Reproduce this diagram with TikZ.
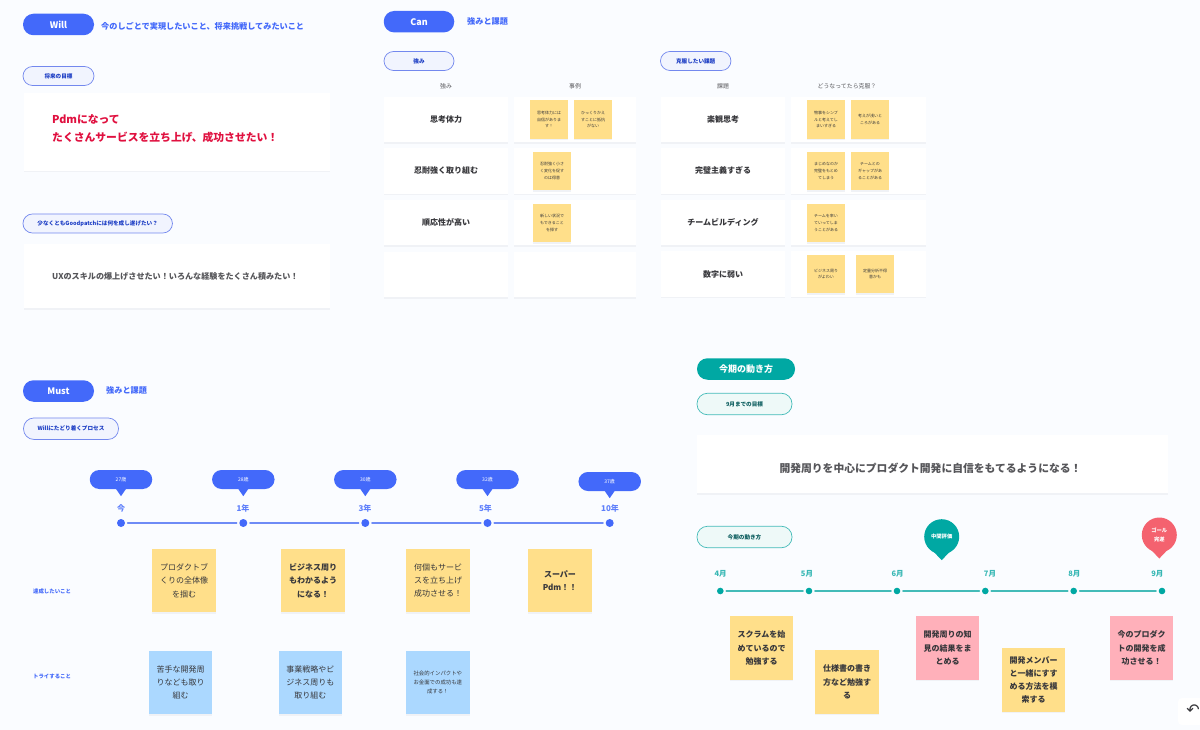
\documentclass[tikz,border=0pt]{standalone}
\usepackage{fontspec}
\usepackage{xcolor}
\setmainfont{Noto Sans CJK JP}
\newfontfamily\undofont{DejaVu Sans}
\usetikzlibrary{shadows}
\definecolor{pagebg}{HTML}{FAFCFF}
\definecolor{shadegray}{HTML}{F0F2F6}
\definecolor{mainblue}{HTML}{4369FA}
\definecolor{lineblue}{HTML}{6E8BF6}
\definecolor{paleblue}{HTML}{F1F4FE}
\definecolor{rimblue}{HTML}{7388EE}
\definecolor{inkblue}{HTML}{1B3CC4}
\definecolor{mainteal}{HTML}{00A8A3}
\definecolor{lineteal}{HTML}{43BBB8}
\definecolor{paleteal}{HTML}{EEF9F8}
\definecolor{inkteal}{HTML}{0E5F60}
\definecolor{goalred}{HTML}{F4626F}
\definecolor{wishred}{HTML}{E0103F}
\definecolor{noteyellow}{HTML}{FFDF8A}
\definecolor{noteblue}{HTML}{ABD8FF}
\definecolor{notepink}{HTML}{FFB0BA}
\definecolor{bodygray}{HTML}{555559}
\definecolor{rowgray}{HTML}{37373B}
\tikzset{
    softshadow/.style={drop shadow={shadow xshift=0pt,shadow yshift=-1.5pt,opacity=1,fill=shadegray}},
    headpill/.style={rounded corners=10.5pt,fill=#1,text=white,font=\fontsize{9}{11}\selectfont\bfseries,minimum height=21.5pt,inner sep=0pt},
    subpill/.style={rounded corners=9.5pt,draw=rimblue,line width=0.7pt,fill=paleblue,text=inkblue,font=\fontsize{5.6}{7}\selectfont\bfseries,minimum height=19pt,inner sep=0pt},
    subteal/.style={subpill,rounded corners=10.5pt,draw=lineteal,fill=paleteal,text=inkteal,minimum width=95pt,minimum height=21.5pt},
    headtext/.style={anchor=west,inner sep=0pt,text=mainblue,font=\fontsize{8.15}{10}\selectfont\bfseries},
    card/.style={fill=white,softshadow,inner sep=0pt},
    rowcard/.style={card,text=rowgray,font=\fontsize{8}{10}\selectfont\bfseries,minimum height=45.5pt},
    colhead/.style={inner sep=0pt,text=bodygray,font=\fontsize{5.9}{7}\selectfont},
    tinynote/.style={fill=noteyellow,softshadow,minimum width=38pt,minimum height=38.5pt,inner sep=0pt,align=center,text=rowgray,font=\fontsize{4}{6.7}\selectfont},
    bignote/.style={fill=#1,softshadow,minimum width=63.5pt,minimum height=63.5pt,inner sep=0pt,align=center,text=rowgray,font=\fontsize{8}{13.2}\selectfont},
    agetag/.style={rounded corners=9.5pt,fill=mainblue,text=white,font=\fontsize{5}{6}\selectfont,minimum width=62.5pt,minimum height=19pt,inner sep=0pt},
    bluedot/.style={circle,fill=mainblue,minimum size=8pt,inner sep=0pt},
    tealdot/.style={circle,fill=mainteal,minimum size=6.6pt,inner sep=0pt},
    blueline/.style={draw=lineblue,line width=1.7pt,shorten >=2.5pt,shorten <=2.5pt},
    tealline/.style={draw=lineteal,line width=1.7pt,shorten >=2.5pt,shorten <=2.5pt},
    bluemark/.style={inner sep=0pt,text=mainblue!85!white,font=\fontsize{8}{10}\selectfont\bfseries},
    tealmark/.style={inner sep=0pt,text=lineteal!80!mainteal,font=\fontsize{7.5}{9}\selectfont\bfseries},
    sidetext/.style={anchor=west,inner sep=0pt,text=mainblue,font=\fontsize{5.4}{7}\selectfont\bfseries},
    balloon/.style={circle,fill=#1,text=white,align=center,minimum size=35pt,inner sep=0pt,font=\fontsize{5.3}{8.6}\selectfont\bfseries}
}
\newcommand{\tagtip}[1]{\fill[mainblue] ([xshift=-5.5pt,yshift=1pt]#1.south) -- ([yshift=-7pt]#1.south) -- ([xshift=5.5pt,yshift=1pt]#1.south) -- cycle;}
\newcommand{\balloontip}[2]{\fill[#2] ([xshift=-9.5pt,yshift=-13.5pt]#1.center) -- ([yshift=-23.5pt]#1.center) -- ([xshift=9.5pt,yshift=-13.5pt]#1.center) -- cycle;}

\begin{document}
\begin{tikzpicture}[line cap=round,line join=round,x=1pt,y=-1pt]
    \useasboundingbox (0,0) rectangle (1200,730);
    \fill [pagebg] (0,0) rectangle (1200,730);

    \node [headpill=mainblue,minimum width=71pt] (will) at (58.5,24.5) {Will};
    \node [headtext] (willtext) at (101,26.8) {今のしごとで実現したいこと、将来挑戦してみたいこと};
    \node [subpill,minimum width=71pt] (goalpill) at (58.5,76) {将来の目標};
    \node [card,minimum width=306pt,minimum height=78pt] (goalcard) at (177,132) {};
    \node [anchor=west,inner sep=0pt,text=wishred,align=left,font=\fontsize{10.8}{18}\selectfont\bfseries] (goaltext) at (52,128.8) {Pdmになって\\たくさんサービスを立ち上げ、成功させたい！};
    \node [subpill,minimum width=149.5pt] (gppill) at (97.7,223.5) {少なくともGoodpatchには何を成し遂げたい？};
    \node [card,minimum width=306pt,minimum height=64pt] (gpcard) at (177,276) {};
    \node [anchor=west,inner sep=0pt,text=bodygray,font=\fontsize{8.1}{10}\selectfont\bfseries] (gptext) at (52,276.8) {UXのスキルの爆上げさせたい！いろんな経験をたくさん積みたい！};

    \node [headpill=mainblue,minimum width=70.5pt] (can) at (419,21.7) {Can};
    \node [headtext] (cantext) at (467,21.5) {強みと課題};
    \node [subpill,minimum width=70pt] (strongpill) at (419,61) {強み};
    \node [colhead] (stronghead) at (446,86) {強み};
    \node [colhead] (casehead) at (575,86) {事例};
    \node [rowcard,minimum width=124pt] (sa) at (446,119.5) {思考体力};
    \node [rowcard,minimum width=124pt] (sb) at (446,170.8) {忍耐強く取り組む};
    \node [rowcard,minimum width=124pt] (sc) at (446,222.5) {順応性が高い};
    \node [rowcard,minimum width=124pt] (sd) at (446,274.5) {};
    \node [rowcard,minimum width=122pt] (ca) at (575,119.5) {};
    \node [rowcard,minimum width=122pt] (cb) at (575,170.8) {};
    \node [rowcard,minimum width=122pt] (cc) at (575,222.5) {};
    \node [rowcard,minimum width=122pt] (cd) at (575,274.5) {};
    \node [tinynote] (na) at (549,119.5) {思考体力には\\自信がありま\\す！};
    \node [tinynote] (nb) at (593,119.5) {ひっくりかえ\\すことに抵抗\\がない};
    \node [tinynote] (nc) at (552,171) {忍耐強く小さ\\く変化を促す\\のは得意};
    \node [tinynote] (nd) at (552,223) {新しい状況で\\もできること\\を探す};

    \node [subpill,minimum width=70.5pt] (weakpill) at (695.7,61) {克服したい課題};
    \node [colhead] (weakhead) at (723,86) {課題};
    \node [colhead] (howhead) at (847,86) {どうなってたら克服？};
    \node [rowcard,minimum width=124pt] (wa) at (723,119.5) {楽観思考};
    \node [rowcard,minimum width=124pt] (wb) at (723,170.8) {完璧主義すぎる};
    \node [rowcard,minimum width=124pt] (wc) at (723,222.5) {チームビルディング};
    \node [rowcard,minimum width=124pt] (wd) at (723,274) {数字に弱い};
    \node [rowcard,minimum width=135pt] (ha) at (858.5,119.5) {};
    \node [rowcard,minimum width=135pt] (hb) at (858.5,170.8) {};
    \node [rowcard,minimum width=135pt] (hc) at (858.5,222.5) {};
    \node [rowcard,minimum width=135pt] (hd) at (858.5,274) {};
    \node [tinynote] (ma) at (826,119.5) {物事をシンプ\\ルと考えてし\\まいすぎる};
    \node [tinynote] (mb) at (870,119.5) {考えが浅いと\\ころがある};
    \node [tinynote] (mc) at (826,171) {まじめなのか\\完璧をもとめ\\てしまう};
    \node [tinynote] (md) at (870,171) {チームとの\\ギャップがあ\\ることがある};
    \node [tinynote] (me) at (826,223) {チームを率い\\ていってしま\\うことがある};
    \node [tinynote] (mf) at (826,274) {ビジネス周り\\がよわい};
    \node [tinynote] (mg) at (875,274) {定量分析不得\\意かも};

    \node [headpill=mainblue,minimum width=71pt] (must) at (58.5,391) {Must};
    \node [headtext] (musttext) at (106,390) {強みと課題};
    \node [subpill,minimum width=95pt,minimum height=21.5pt,rounded corners=10.5pt] (roadpill) at (71,428.7) {Willにたどり着くプロセス};

    \node [agetag] (ta) at (121,479.5) {27歳};
    \node [agetag] (tb) at (243.3,479.5) {28歳};
    \node [agetag] (tc) at (365.3,479.5) {30歳};
    \node [agetag] (td) at (487.5,479.5) {32歳};
    \node [agetag] (te) at (609.7,481.5) {37歳};
    \tagtip{ta}
    \tagtip{tb}
    \tagtip{tc}
    \tagtip{td}
    \tagtip{te}
    \node [bluemark] (ya) at (121,508) {今};
    \node [bluemark] (yb) at (243,508) {1年};
    \node [bluemark] (yc) at (365,508) {3年};
    \node [bluemark] (yd) at (485.5,508) {5年};
    \node [bluemark] (ye) at (610,508) {10年};
    \node [bluedot] (da) at (121,523) {};
    \node [bluedot] (db) at (243.3,523) {};
    \node [bluedot] (dc) at (365.3,523) {};
    \node [bluedot] (dd) at (487.5,523) {};
    \node [bluedot] (de) at (609.7,523) {};
    \draw [blueline] (da) -- (db);
    \draw [blueline] (db) -- (dc);
    \draw [blueline] (dc) -- (dd);
    \draw [blueline] (dd) -- (de);

    \node [sidetext] (reach) at (33,591.5) {達成したいこと};
    \node [sidetext] (try) at (33,676.5) {トライすること};
    \node [bignote=noteyellow] (ra) at (184.2,580.7) {プロダクトブ\\くりの全体像\\を掴む};
    \node [bignote=noteyellow,font=\fontsize{8}{13.2}\selectfont\bfseries] (rb) at (313,580.7) {ビジネス周り\\もわかるよう\\になる！};
    \node [bignote=noteyellow] (rc) at (438,580.7) {何個もサービ\\スを立ち上げ\\成功させる！};
    \node [bignote=noteyellow,font=\fontsize{8}{13.2}\selectfont\bfseries] (rd) at (560,580.7) {スーパー\\Pdm！！};
    \node [bignote=noteblue] (ka) at (180.5,682.5) {苦手な開発周\\りなども取り\\組む};
    \node [bignote=noteblue] (kb) at (310.3,682.5) {事業戦略やビ\\ジネス周りも\\取り組む};
    \node [bignote=noteblue,font=\fontsize{5.4}{9}\selectfont] (kc) at (437.8,682.5) {社会的インパクトや\\お金面での成功も達\\成する！};

    \node [headpill=mainteal,minimum width=98pt] (term) at (746,369) {今期の動き方};
    \node [subteal] (septpill) at (744.5,404) {9月までの目標};
    \node [card,minimum width=471pt,minimum height=58pt] (septcard) at (932.5,464) {};
    \node [inner sep=0pt,text=bodygray,font=\fontsize{10.8}{13}\selectfont\bfseries] (septtext) at (930.5,468.8) {開発周りを中心にプロダクト開発に自信をもてるようになる！};
    \node [subteal] (planpill) at (744.5,537) {今期の動き方};

    \node [balloon=mainteal] (midb) at (941.7,536.7) {};
    \node [balloon=goalred] (goalb) at (1159.3,535) {};
    \balloontip{midb}{mainteal}
    \balloontip{goalb}{goalred}
    \node [inner sep=0pt,text=white,font=\fontsize{5.3}{8.6}\selectfont\bfseries] (midtext) at (midb.center) {中間評価};
    \node [inner sep=0pt,text=white,align=center,font=\fontsize{5.3}{8.6}\selectfont\bfseries] (goaltag) at (goalb.center) {ゴール\\完遂};

    \node [tealmark] (ma4) at (720.7,574) {4月};
    \node [tealmark] (ma5) at (807,574) {5月};
    \node [tealmark] (ma6) at (897.7,574) {6月};
    \node [tealmark] (ma7) at (990,574) {7月};
    \node [tealmark] (ma8) at (1074.3,574) {8月};
    \node [tealmark] (ma9) at (1157.3,574) {9月};
    \node [tealdot] (p4) at (720.3,591) {};
    \node [tealdot] (p5) at (809,591) {};
    \node [tealdot] (p6) at (897,591) {};
    \node [tealdot] (p7) at (985.3,591) {};
    \node [tealdot] (p8) at (1073.7,591) {};
    \node [tealdot] (p9) at (1162,591) {};
    \draw [tealline] (p4) -- (p5);
    \draw [tealline] (p5) -- (p6);
    \draw [tealline] (p6) -- (p7);
    \draw [tealline] (p7) -- (p8);
    \draw [tealline] (p8) -- (p9);

    \node [bignote=noteyellow,font=\fontsize{8}{13.2}\selectfont\bfseries] (sa4) at (761.5,648) {スクラムを始\\めているので\\勉強する};
    \node [bignote=noteyellow,font=\fontsize{8}{13.2}\selectfont\bfseries] (sa5) at (847,682) {仕様書の書き\\方など勉強す\\る};
    \node [bignote=notepink,font=\fontsize{8}{13.2}\selectfont\bfseries] (sa6) at (947.5,648) {開発周りの知\\見の結果をま\\とめる};
    \node [bignote=noteyellow,font=\fontsize{8}{13.2}\selectfont\bfseries] (sa7) at (1033.7,680) {開発メンバー\\と一緒にすす\\める方法を模\\索する};
    \node [bignote=notepink,font=\fontsize{8}{13.2}\selectfont\bfseries] (sa8) at (1141.5,648) {今のプロダク\\トの開発を成\\功させる！};

    \node [fill=white,rounded corners=4pt,minimum width=30pt,minimum height=27pt,inner sep=0pt] (undoback) at (1193,711.5) {};
    \node [inner sep=0pt,text=rowgray,font=\undofont\fontsize{16}{16}\selectfont] (undo) at (1193,710.5) {↶};
\end{tikzpicture}
\end{document}
